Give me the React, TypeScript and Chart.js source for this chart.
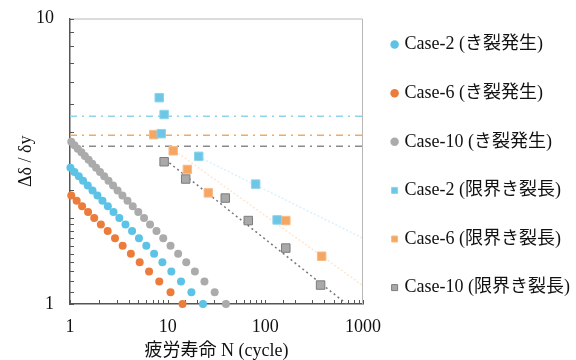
import React, { useEffect, useRef } from "react";
import { Chart, registerables } from "chart.js";

Chart.register(...registerables);

const FONT =
  '"Liberation Serif", "Times New Roman", "Noto Sans CJK JP", serif';

// Legend / series names
const seriesNames = [
  "Case-2 (き裂発生)",
  "Case-6 (き裂発生)",
  "Case-10 (き裂発生)",
  "Case-2 (限界き裂長)",
  "Case-6 (限界き裂長)",
  "Case-10 (限界き裂長)",
];

// Crack initiation (circles)
const case2InitN = [1.01, 1.11, 1.23, 1.36, 1.52, 1.7, 1.91, 2.15, 2.44, 2.79, 3.2, 3.7, 4.32, 5.08, 6.04, 7.26, 8.83, 10.9, 13.7, 17.5, 23.0];
const case2InitD = [3.0, 2.9, 2.8, 2.7, 2.6, 2.5, 2.4, 2.3, 2.2, 2.1, 2.0, 1.9, 1.8, 1.7, 1.6, 1.5, 1.4, 1.3, 1.2, 1.1, 1.0];

const case6InitN = [1.03, 1.17, 1.33, 1.53, 1.77, 2.07, 2.43, 2.89, 3.46, 4.2, 5.17, 6.45, 8.2, 10.7, 14.2];
const case6InitD = [2.4, 2.3, 2.2, 2.1, 2.0, 1.9, 1.8, 1.7, 1.6, 1.5, 1.4, 1.3, 1.2, 1.1, 1.0];

const case10InitN = [1.03, 1.11, 1.2, 1.31, 1.42, 1.55, 1.69, 1.85, 2.03, 2.24, 2.48, 2.76, 3.07, 3.44, 3.88, 4.39, 5.0, 5.73, 6.6, 7.68, 9.01, 10.7, 12.8, 15.5, 19.0, 23.8, 30.3, 39.5];
const case10InitD = [3.7, 3.6, 3.5, 3.4, 3.3, 3.2, 3.1, 3.0, 2.9, 2.8, 2.7, 2.6, 2.5, 2.4, 2.3, 2.2, 2.1, 2.0, 1.9, 1.8, 1.7, 1.6, 1.5, 1.4, 1.3, 1.2, 1.1, 1.0];

// Critical crack length (squares)
const case2CritN = [8.2, 9.2, 8.6, 20.8, 79.6, 132];
const case2CritD = [5.28, 4.61, 3.95, 3.29, 2.63, 1.97];

const case6CritN = [7.2, 11.4, 15.9, 26.1, 162, 377];
const case6CritD = [3.92, 3.44, 2.96, 2.45, 1.96, 1.47];

const case10CritN = [9.2, 15.3, 38.9, 66.9, 162, 368];
const case10CritD = [3.15, 2.74, 2.35, 1.96, 1.57, 1.165];

// Horizontal reference levels (dash-dot)
const refRangeN = [1, 1000];
const case2Level = 4.55;
const case6Level = 3.9;
const case10Level = 3.57;

// Trend lines (critical crack length)
const case10TrendN = [9.5, 680];
const case10TrendD = [3.2, 1.0];
const case6TrendN = [11, 1000];
const case6TrendD = [3.5, 1.16];
const case2TrendN = [21, 1000];
const case2TrendD = [3.27, 1.7];

// Axis tick labels
const xLabelTicks = [1, 10, 100, 1000];
const yLabelTicks = [1, 10];

const BLUE = "#5cc2e6";
const ORANGE = "#ec7c3c";
const GRAY = "#ababab";
const BLUE_SQ = "#6cc6e6";
const ORANGE_SQ = "#f6a663";
const GRAY_SQ = "#a9a9a9";

const zip = (xs: number[], ys: number[]) => xs.map((x, i) => ({ x, y: ys[i] }));

const framePlugin = {
  id: "frame",
  beforeDatasetsDraw(chart: any) {
    const { ctx, chartArea } = chart;
    const { left, right, top, bottom } = chartArea;
    ctx.save();
    ctx.strokeStyle = "#b8b8b8";
    ctx.lineWidth = 1;
    ctx.beginPath();
    ctx.moveTo(left, top + 0.5);
    ctx.lineTo(right - 0.5, top + 0.5);
    ctx.lineTo(right - 0.5, bottom);
    ctx.stroke();

    // inward tick marks
    ctx.strokeStyle = "#555";
    ctx.lineWidth = 1;
    ctx.beginPath();
    const xs = chart.scales.x;
    xs.ticks.forEach((t: any) => {
      const px = Math.round(xs.getPixelForValue(t.value)) + 0.5;
      ctx.moveTo(px, bottom);
      ctx.lineTo(px, bottom - 4);
    });
    const ys = chart.scales.y;
    ys.ticks.forEach((t: any) => {
      const py = Math.round(ys.getPixelForValue(t.value)) + 0.5;
      ctx.moveTo(left, py);
      ctx.lineTo(left + 4, py);
    });
    ctx.stroke();
    ctx.restore();
  },
};

export default function App() {
  const ref = useRef<HTMLCanvasElement>(null);

  useEffect(() => {
    if (!ref.current) return;
    const circle = (label: string, n: number[], d: number[], color: string) => ({
      label,
      data: zip(n, d),
      backgroundColor: color,
      borderColor: color,
      pointStyle: "circle",
      pointRadius: 4,
      pointBorderWidth: 0,
      showLine: false,
      clip: false,
    });
    const square = (label: string, n: number[], d: number[], color: string, border: string) => ({
      label,
      data: zip(n, d),
      backgroundColor: color,
      borderColor: border,
      pointStyle: "rect",
      pointRadius: 6,
      pointBorderWidth: 1,
      showLine: false,
      clip: false,
    });
    const line = (n: number[], d: number[], color: string, dash: number[], width: number) => ({
      label: "",
      data: zip(n, d),
      borderColor: color,
      backgroundColor: color,
      borderDash: dash,
      borderWidth: width,
      pointRadius: 0,
      showLine: true,
      fill: false,
    });

    const chart = new Chart(ref.current, {
      type: "scatter",
      data: {
        datasets: [
          circle(seriesNames[0], case2InitN, case2InitD, BLUE),
          circle(seriesNames[1], case6InitN, case6InitD, ORANGE),
          circle(seriesNames[2], case10InitN, case10InitD, GRAY),
          square(seriesNames[3], case2CritN, case2CritD, BLUE_SQ, "#8fd3ec"),
          square(seriesNames[4], case6CritN, case6CritD, ORANGE_SQ, "#f9bb85"),
          square(seriesNames[5], case10CritN, case10CritD, GRAY_SQ, "#7d7d7d"),
          line(refRangeN, [case2Level, case2Level], "#8fd4ee", [7, 5, 2, 5], 1.5),
          line(refRangeN, [case6Level, case6Level], "#f5a862", [7, 5, 2, 5], 1.5),
          line(refRangeN, [case10Level, case10Level], "#8a8a8a", [7, 5, 2, 5], 1.5),
          line(case10TrendN, case10TrendD, "#777777", [2, 3], 1.5),
          line(case6TrendN, case6TrendD, "rgba(246,190,120,0.35)", [2, 2], 1.5),
          line(case2TrendN, case2TrendD, "rgba(140,210,236,0.3)", [2, 2], 1.5),
        ] as any,
      },
      options: {
        responsive: false,
        animation: false,
        layout: { padding: { left: 15, right: 5, top: 5, bottom: 0 } },
        plugins: {
          tooltip: { enabled: false },
          legend: {
            position: "right",
            align: "start",
            maxWidth: 208,
            labels: {
              usePointStyle: true,
              boxWidth: 2,
              boxHeight: 6,
              padding: 30.6,
              color: "#111",
              font: { family: FONT, size: 18 },
              filter: (item: any) => item.datasetIndex < 6,
            },
          },
        },
        scales: {
          x: {
            type: "logarithmic",
            min: 1,
            max: 1000,
            border: { display: true, color: "#555", width: 1.5 },
            grid: {
              display: true,
              drawOnChartArea: false,
              drawTicks: true,
              tickLength: 10,
              tickColor: "rgba(0,0,0,0)",
            },
            ticks: {
              autoSkip: false,
              maxRotation: 0,
              padding: 2,
              color: "#111",
              font: { family: FONT, size: 18 },
              callback: (v: any) => (xLabelTicks.includes(Number(v)) ? String(v) : ""),
            },
            title: {
              display: true,
              text: "疲労寿命 N (cycle)",
              color: "#111",
              font: { family: FONT, size: 18, lineHeight: 1 },
              padding: { top: 2, bottom: 0 },
            },
            afterFit: (scale: any) => {
              scale.height = 56;
            },
          },
          y: {
            type: "logarithmic",
            min: 1,
            max: 10,
            border: { display: true, color: "#555", width: 1.5 },
            grid: {
              display: true,
              drawOnChartArea: false,
              drawTicks: true,
              tickLength: 9,
              tickColor: "rgba(0,0,0,0)",
            },
            ticks: {
              autoSkip: false,
              padding: 7,
              color: "#111",
              font: { family: FONT, size: 18 },
              callback: (v: any) => (yLabelTicks.includes(Number(v)) ? String(v) : ""),
            },
            title: {
              display: true,
              text: "Δδ / δy",
              color: "#111",
              font: { family: FONT, size: 18 },
              padding: { top: 0, bottom: 0 },
            },
            afterFit: (scale: any) => {
              scale.width = 55;
              scale.paddingTop = 18.5;
            },
          },
        },
      } as any,
      plugins: [framePlugin],
    });
    return () => chart.destroy();
  }, []);

  return (
    <div style={{ position: "fixed", left: 0, top: 0, width: 576, height: 360, background: "#fff" }}>
      <canvas ref={ref} width={576} height={360} />
    </div>
  );
}
